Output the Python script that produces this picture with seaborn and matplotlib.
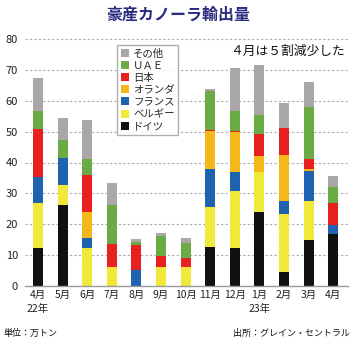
import matplotlib
matplotlib.use("Agg")
import matplotlib.pyplot as plt
from matplotlib.patches import Patch
import seaborn as sns
import pandas as pd
import numpy as np

months = ["4月\n22年", "5月", "6月", "7月", "8月", "9月", "10月", "11月", "12月",
          "1月\n23年", "2月", "3月", "4月"]
germany = [12.3, 26.3, 0, 0, 0, 0, 0, 12.7, 12.2, 23.8, 4.3, 14.8, 16.7]
belgium = [14.7, 6.4, 12.4, 6.1, 0, 6.2, 6.2, 12.7, 18.4, 13.1, 19.1, 12.8, 0]
france = [8.3, 8.9, 3.2, 0, 5.0, 0, 0, 12.5, 6.2, 0, 4.2, 9.5, 3.1]
netherlands = [0, 0, 8.3, 0, 0, 0, 0, 12.4, 13.0, 5.1, 14.9, 0.9, 0]
japan = [15.7, 0, 11.9, 7.6, 8.3, 3.6, 2.9, 0.3, 0.5, 7.4, 8.7, 3.1, 7.0]
uae = [5.8, 5.6, 5.3, 12.6, 1.0, 6.2, 4.9, 12.5, 6.5, 5.9, 0, 16.8, 5.4]
other = [10.7, 7.3, 12.8, 7.2, 0.9, 1.1, 1.4, 0.9, 13.8, 16.2, 8.1, 8.1, 3.3]

series_names = ["ドイツ", "ベルギー", "フランス", "オランダ", "日本", "ＵＡＥ", "その他"]
series_values = [germany, belgium, france, netherlands, japan, uae, other]
colors = ["#111111", "#f0e93a", "#1f62b0", "#f5b81a", "#e8201f", "#6aab45", "#aba7a7"]

sns.set_style("white")
plt.rcParams["font.family"] = ["Noto Sans CJK JP", "DejaVu Sans"]

fig = plt.figure(figsize=(3.57, 3.40), dpi=100)
ax = fig.add_axes([25 / 357, 1 - 285.7 / 340, 323 / 357, (285.7 - 39.3) / 340])

x = np.arange(len(months))
bottom = np.zeros(len(months))
for name, vals, col in zip(series_names, series_values, colors):
    vals = np.array(vals, dtype=float)
    df = pd.DataFrame({"x": x, "y": vals})
    sns.barplot(data=df, x="x", y="y", ax=ax, color=col, width=0.41,
                bottom=bottom, linewidth=0, saturation=1, errorbar=None)
    bottom = bottom + vals

ax.set_xlim(-0.53, 12.6)
ax.set_ylim(0, 80)
ax.set_yticks(range(0, 81, 10))
ax.set_yticklabels([str(v) for v in range(0, 81, 10)], fontsize=8, color="#222222")
ax.set_xticks(x)
ax.set_xticklabels(months, fontsize=7.5, color="#222222", linespacing=1.55)
ax.set_xlabel("")
ax.set_ylabel("")
ax.tick_params(axis="y", length=0, pad=5)
ax.tick_params(axis="x", length=0, pad=3)
for v in range(10, 81, 10):
    ax.axhline(v, color="#aaaaaa", lw=0.8, ls=(0, (2, 2)), zorder=0)
for s in ["left", "right", "top"]:
    ax.spines[s].set_visible(False)
ax.spines["bottom"].set_color("#999999")
ax.spines["bottom"].set_linewidth(1)
ax.set_axisbelow(True)

fig.text(0.5, 1 - 15 / 340, "豪産カノーラ輸出量", ha="center", va="center",
         fontsize=11.5, fontweight="bold", color="#2b2b80")
fig.text(345 / 357, 1 - 51.5 / 340, "４月は５割減少した", ha="right", va="center",
         fontsize=9.2, color="#111111")
fig.text(3 / 357, 1 - 333 / 340, "単位：万トン", ha="left", va="center",
         fontsize=6.5, color="#111111")
fig.text(350 / 357, 1 - 333 / 340, "出所：グレイン・セントラル", ha="right", va="center",
         fontsize=6.5, color="#111111")

handles = [Patch(facecolor=c, edgecolor="none") for c in colors[::-1]]
leg = fig.legend(handles, series_names[::-1], loc="upper left",
                 bbox_to_anchor=(117 / 357, 1 - 45 / 340), fontsize=7.5,
                 frameon=True, fancybox=False, handlelength=0.8, handleheight=0.8,
                 handletextpad=0.4, labelspacing=0.2, borderpad=0.35,
                 borderaxespad=0)
leg.get_frame().set_edgecolor("#999999")
leg.get_frame().set_linewidth(1)

fig.savefig("out.png", dpi=100)
